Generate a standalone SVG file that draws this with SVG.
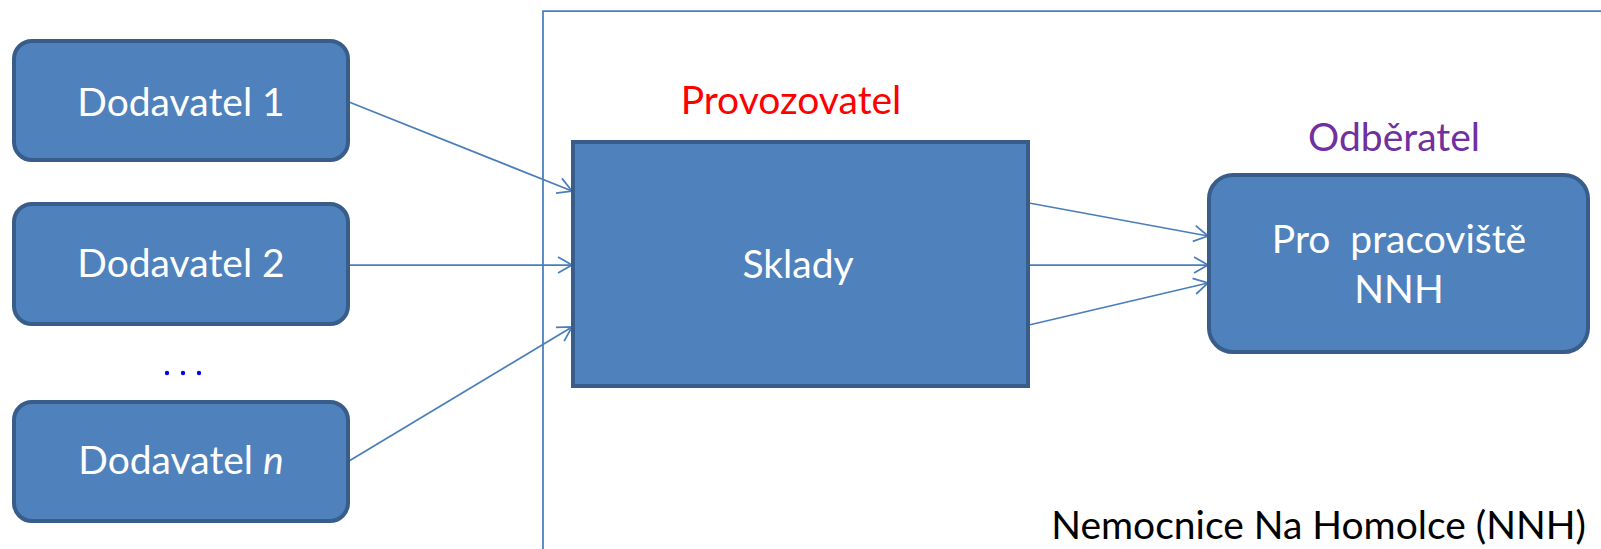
<svg xmlns="http://www.w3.org/2000/svg" width="1601" height="549" viewBox="0 0 1601 549">
<style>
.box{fill:#4F81BD;stroke:#385D8A;stroke-width:4}
.t{font-family:Lato,"Open Sans",sans-serif;font-size:39px;text-anchor:middle}
.lbl{fill:#FFFFFF}
.conn{stroke:#4A7EBB;stroke-width:1.75;fill:none}
</style>
<defs>
<marker id="arr" viewBox="0 0 20 20" refX="18" refY="10" markerWidth="20" markerHeight="20" markerUnits="userSpaceOnUse" orient="auto">
<path d="M4,2 L18,10 L4,18" fill="none" stroke="#4A7EBB" stroke-width="1.75"/>
</marker>
</defs>
<rect width="1601" height="549" fill="#FFFFFF"/>
<g id="border">
<path d="M543,549 L543,11 L1601,11" class="conn"/>
</g>
<g id="connectors">
<line x1="349" y1="102" x2="572" y2="191" class="conn" marker-end="url(#arr)"/>
<line x1="349" y1="265" x2="572" y2="265" class="conn" marker-end="url(#arr)"/>
<line x1="349" y1="461" x2="572" y2="327" class="conn" marker-end="url(#arr)"/>
<line x1="1029" y1="203" x2="1208" y2="236" class="conn" marker-end="url(#arr)"/>
<line x1="1029" y1="265" x2="1208" y2="265" class="conn" marker-end="url(#arr)"/>
<line x1="1029" y1="325" x2="1208" y2="283" class="conn" marker-end="url(#arr)"/>
</g>
<g id="dodavatel1">
<rect x="14" y="41" width="334" height="119" rx="18" class="box"/>
<text x="181" y="116" class="t lbl">Dodavatel 1</text>
</g>
<g id="dodavatel2">
<rect x="14" y="204" width="334" height="120" rx="18" class="box"/>
<text x="181" y="277" class="t lbl">Dodavatel 2</text>
</g>
<g id="dots">
<circle cx="167" cy="373" r="2.2" fill="#0000FF"/>
<circle cx="183" cy="373" r="2.2" fill="#0000FF"/>
<circle cx="199" cy="373" r="2.2" fill="#0000FF"/>
</g>
<g id="dodavateln">
<rect x="14" y="402" width="334" height="119" rx="18" class="box"/>
<text x="181" y="474" class="t lbl">Dodavatel <tspan font-style="italic">n</tspan></text>
</g>
<g id="sklady">
<rect x="573" y="142" width="455" height="244" class="box"/>
<text x="798" y="278" class="t lbl">Sklady</text>
<text x="791" y="114" class="t" fill="#FF0000">Provozovatel</text>
</g>
<g id="odberatel">
<rect x="1209" y="175" width="379" height="177" rx="24" class="box"/>
<text x="1399" y="253" class="t lbl" xml:space="preserve">Pro  pracoviště</text>
<text x="1399" y="303" class="t lbl">NNH</text>
<text x="1394" y="151" class="t" fill="#7030A0">Odběratel</text>
</g>
<g id="nnh">
<text x="1586" y="539" class="t" fill="#000000" style="text-anchor:end">Nemocnice Na Homolce (NNH)</text>
</g>
</svg>
